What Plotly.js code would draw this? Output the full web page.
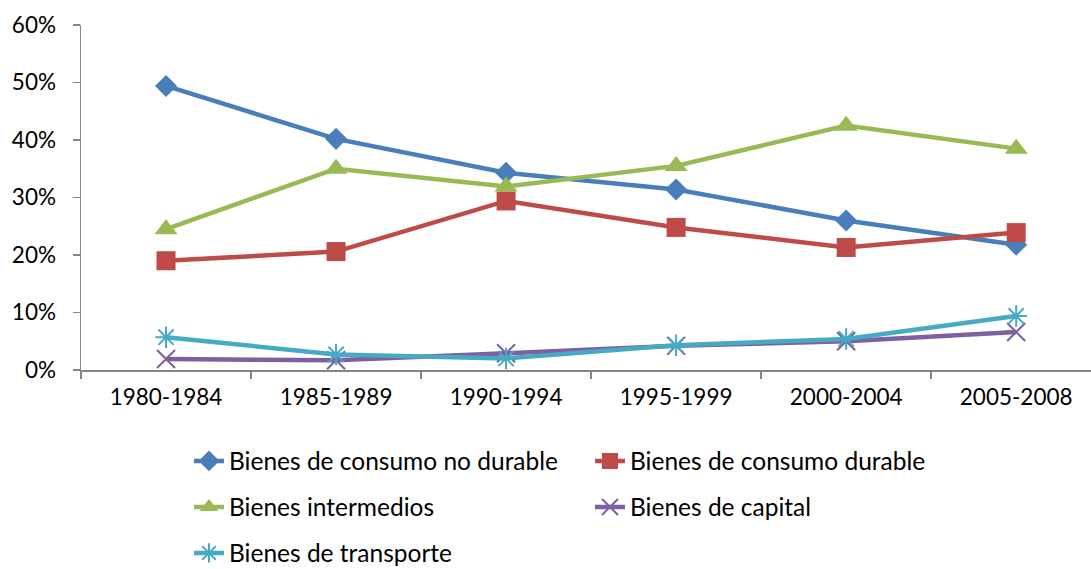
<!DOCTYPE html>
<html>
<head>
<meta charset="utf-8">
<script src="https://cdn.plot.ly/plotly-3.0.1.min.js"></script>
<style>html,body{margin:0;padding:0;background:#fff;}#chart{width:1091px;height:569px;}</style>
</head>
<body>
<div id="chart"></div>
<script>
const categories = ["1980-1984", "1985-1989", "1990-1994", "1995-1999", "2000-2004", "2005-2008"];
const noDurable = [49.4, 40.2, 34.3, 31.4, 26.0, 21.8];
const durable = [19.0, 20.6, 29.4, 24.8, 21.3, 23.9];
const intermedios = [24.5, 35.0, 31.9, 35.5, 42.5, 38.5];
const capital = [1.9, 1.7, 2.9, 4.2, 5.0, 6.6];
const transporte = [5.7, 2.7, 2.0, 4.3, 5.4, 9.4];
const seriesNames = ["Bienes de consumo no durable", "Bienes de consumo durable", "Bienes intermedios", "Bienes de capital", "Bienes de transporte"];
const yTicks = [0, 10, 20, 30, 40, 50, 60];
const yTickLabels = ["0%", "10%", "20%", "30%", "40%", "50%", "60%"];

const FONT = "Lato, 'Liberation Sans', sans-serif";
function mk(name, y, color, symbol, size, legend, open) {
  return {
    type: "scatter", mode: "lines+markers", name: name, x: categories, y: y,
    legend: legend,
    line: {color: color, width: 4.5},
    marker: {symbol: symbol, size: size, color: color,
             line: {color: color, width: open ? 2 : 0}},
    hoverinfo: "skip"
  };
}
const data = [
  mk(seriesNames[0], noDurable, "#4A7EBB", "diamond", 17, "legend", false),
  mk(seriesNames[1], durable, "#BE4B48", "square", 19, "legend", false),
  mk(seriesNames[2], intermedios, "#98B954", "triangle-up", 20, "legend2", false),
  mk(seriesNames[3], capital, "#7D60A0", "x-thin-open", 18, "legend2", true),
  mk(seriesNames[4], transporte, "#46AAC5", "asterisk-open", 18, "legend3", true)
];
function leg(yc) {
  return {orientation: "h", xref: "container", yref: "container",
          x: 189/1091, y: 1 - yc/569, xanchor: "left", yanchor: "middle",
          entrywidth: 356, entrywidthmode: "pixels",
          font: {family: FONT, size: 24.5, color: "#000"},
          bgcolor: "rgba(0,0,0,0)", borderwidth: 0, itemclick: false, itemdoubleclick: false};
}
const layout = {
  width: 1091, height: 569,
  margin: {l: 81, r: 0, t: 25, b: 199},
  paper_bgcolor: "#fff", plot_bgcolor: "#fff",
  font: {family: FONT, size: 23, color: "#000"},
  showlegend: true,
  legend: leg(461), legend2: leg(507), legend3: leg(553),
  xaxis: {
    type: "category", range: [-0.5, 5.44],
    showline: true, linecolor: "#868686", linewidth: 1.5,
    ticks: "outside", tickson: "boundaries", ticklen: 7, tickcolor: "#868686", tickwidth: 1.5,
    showgrid: false, zeroline: false, ticklabelstandoff: 6,
    tickfont: {family: FONT, size: 22.5, color: "#000"}
  },
  yaxis: {
    range: [0, 60], tickmode: "array", tickvals: yTicks, ticktext: yTickLabels,
    showline: true, linecolor: "#868686", linewidth: 1.5,
    ticks: "outside", ticklen: 7, tickcolor: "#868686", tickwidth: 1.5,
    showgrid: false, zeroline: false, ticklabelstandoff: 12,
    tickfont: {family: FONT, size: 22.5, color: "#000"}
  }
};
Plotly.newPlot("chart", data, layout, {staticPlot: true, displayModeBar: false});
</script>
</body>
</html>
